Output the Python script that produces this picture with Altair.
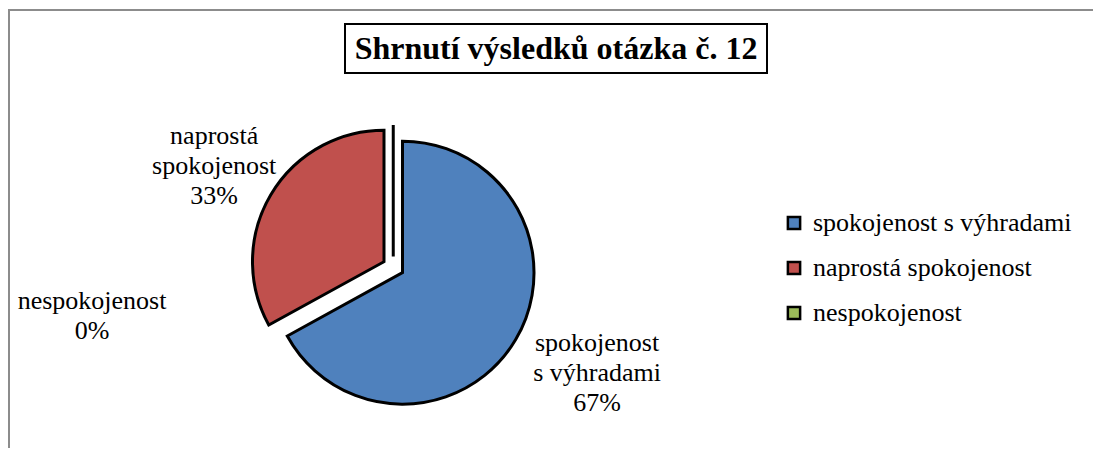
import altair as alt
import pandas as pd

# ---- data ----
categories = ["spokojenost s výhradami", "naprostá spokojenost", "nespokojenost"]
label_text = ["spokojenost\ns výhradami", "naprostá\nspokojenost", "nespokojenost"]
values = [67, 33, 0]
colors = ["#4F81BD", "#C0504D", "#9BBB59"]
title_text = "Shrnutí výsledků otázka č. 12"

df = pd.DataFrame({
    "category": categories,
    "label": label_text,
    "value": values,
    "order": list(range(len(categories))),
})

# ---- layout (chart pixel coords) ----
W, H = 1085, 440
BASE_X, BASE_Y = 385.25, 259.2
EXPLODE = 10.75
R = 131.5
FONT = "'Liberation Serif', 'Times New Roman', Times, 'DejaVu Serif', serif"

base = alt.Chart(df).transform_joinaggregate(
    total="sum(value)"
).transform_window(
    cum="sum(value)", sort=[alt.SortField("order")], frame=[None, 0]
).transform_calculate(
    t0="2*PI*(datum.cum - datum.value)/datum.total",
    t1="2*PI*datum.cum/datum.total",
).transform_calculate(
    mid="(datum.t0 + datum.t1)/2",
).transform_calculate(
    cx=f"{BASE_X} + {EXPLODE}*sin(datum.mid)",
    cy=f"{BASE_Y} - {EXPLODE}*cos(datum.mid)",
    txt="datum.label + '\\n' + format(datum.value/datum.total, '.0%')",
)

xenc = alt.X("cx:Q", scale=None, axis=None)
yenc = alt.Y("cy:Q", scale=None, axis=None)

arcs = base.mark_arc(
    outerRadius=R, stroke="black", strokeWidth=3, strokeJoin="miter"
).encode(
    x=xenc, y=yenc,
    theta=alt.Theta("t0:Q", scale=None),
    theta2="t1:Q",
    color=alt.Color(
        "category:N",
        scale=alt.Scale(domain=categories, range=colors),
        legend=alt.Legend(
            orient="none", legendX=773, legendY=202, title=None,
            symbolType="square", symbolSize=150,
            symbolStrokeColor="black", symbolStrokeWidth=2.5,
            labelFont=FONT, labelFontSize=26, labelColor="black",
            labelOffset=6, rowPadding=19, padding=0, labelLimit=0,
        ),
    ),
    order=alt.Order("order:Q"),
)

def slice_label(cat, radius, dx=0, dy=0):
    return base.transform_filter(alt.datum.category == cat).mark_text(
        font=FONT, fontSize=26, color="black", align="center",
        baseline="middle", lineBreak="\n", lineHeight=30,
        radius=radius, dx=dx, dy=dy,
    ).encode(x=xenc, y=yenc, theta=alt.Theta("mid:Q", scale=None), text="txt:N")

lbl_blue = slice_label(categories[0], 233, dx=-6, dy=-48)
lbl_red = slice_label(categories[1], 195, dx=-2, dy=-26)
lbl_zero = base.transform_filter(alt.datum.category == categories[2]).mark_text(
    font=FONT, fontSize=26, color="black", align="center",
    baseline="middle", lineBreak="\n", lineHeight=30, x=84, y=293,
).encode(text="txt:N")

one = pd.DataFrame({"t": [title_text]})

border_left = alt.Chart(one).mark_rule(color="#8c8c8c", strokeWidth=2).encode(
    x=alt.value(1), y=alt.value(2), y2=alt.value(H)
)
border_top = alt.Chart(one).mark_rule(color="#8c8c8c", strokeWidth=2).encode(
    x=alt.value(0), x2=alt.value(W), y=alt.value(2)
)

title_box = alt.Chart(one).mark_rect(
    fill="white", stroke="black", strokeWidth=2
).encode(x=alt.value(337), x2=alt.value(759), y=alt.value(16), y2=alt.value(65))

title = alt.Chart(one).mark_text(
    font=FONT, fontSize=32, fontWeight="bold", color="black",
    align="center", baseline="middle",
).encode(x=alt.value(548), y=alt.value(41), text="t:N")

chart = alt.layer(
    border_left, border_top, arcs, lbl_blue, lbl_red, lbl_zero, title_box, title
).properties(
    width=W, height=H, padding=0, autosize=alt.AutoSizeParams(type="none"),
).configure_view(stroke=None)

chart.save("out.html", embed_options={"renderer": "svg", "actions": False})
